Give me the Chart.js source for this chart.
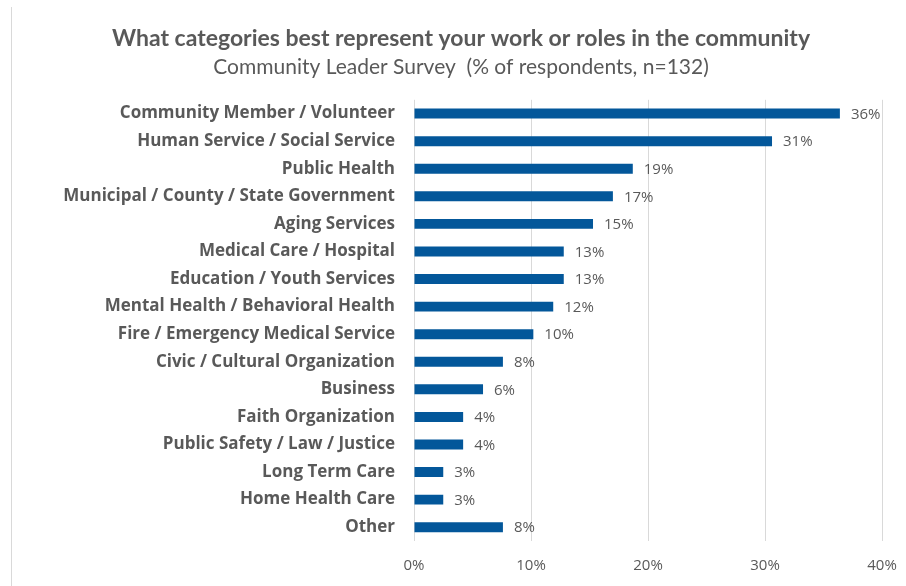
<!DOCTYPE html>
<html>
<head>
<meta charset="utf-8">
<script src="https://cdn.jsdelivr.net/npm/chart.js@4.4.1/dist/chart.umd.min.js"></script>
<style>
  html, body { margin: 0; padding: 0; background: #fff; }
  #wrap { position: relative; width: 906px; height: 586px; }
  #edge { position: absolute; left: 11px; top: 7px; bottom: 0; border-left: 1px solid #d9d9d9; }
</style>
</head>
<body>
<div id="wrap">
  <div id="edge"></div>
  <canvas id="roles" width="906" height="586"></canvas>
</div>
<script>
var categories = [
    'Community Member / Volunteer',
    'Human Service / Social Service',
    'Public Health',
    'Municipal / County / State Government',
    'Aging Services',
    'Medical Care / Hospital',
    'Education / Youth Services',
    'Mental Health / Behavioral Health',
    'Fire / Emergency Medical Service',
    'Civic / Cultural Organization',
    'Business',
    'Faith Organization',
    'Public Safety / Law / Justice',
    'Long Term Care',
    'Home Health Care',
    'Other'
];
var percents = [36.4, 30.6, 18.7, 17.0, 15.3, 12.8, 12.8, 11.9, 10.2, 7.6, 5.9, 4.2, 4.2, 2.5, 2.5, 7.6];
var tickValues = [0, 10, 20, 30, 40];

var grey = '#595959';
var sans = '"Open Sans"';

// value labels at the end of each bar
var barLabels = {
    id: 'barLabels',
    afterDatasetsDraw: function(chart){
        var ctx = chart.ctx;
        var meta = chart.getDatasetMeta(0);
        ctx.save();
        ctx.font = '15px ' + sans;
        ctx.fillStyle = grey;
        ctx.textAlign = 'left';
        ctx.textBaseline = 'middle';
        meta.data.forEach(function(bar, i){
            ctx.fillText(Math.round(percents[i]) + '%', bar.x + 11, bar.y + 1);
        });
        ctx.restore();
    }
};

var ctx = document.getElementById('roles').getContext('2d');
var chart = new Chart(ctx, {
    type: 'bar',
    data: {
        labels: categories,
        datasets: [
            {
                data: percents,
                backgroundColor: '#03579a',
                barPercentage: 0.6,
                categoryPercentage: 0.6
            }
        ]
    },
    plugins: [barLabels],
    options: {
        indexAxis: 'y',
        responsive: false,
        animation: false,
        layout: { padding: { left: 16, right: 0, top: 0, bottom: 0 } },
        plugins: {
            legend: { display: false },
            tooltip: { enabled: false },
            title: {
                display: true,
                text: 'What categories best represent your work or roles in the community',
                color: grey,
                font: { family: 'Lato', size: 23, weight: 'bold', lineHeight: 1.2 },
                padding: { top: 25, bottom: 2 }
            },
            subtitle: {
                display: true,
                text: 'Community Leader Survey  (% of respondents, n=132)',
                color: grey,
                font: { family: 'Lato', size: 21, lineHeight: 1.2 },
                padding: { top: 0, bottom: 20 }
            }
        },
        scales: {
            x: {
                min: 0,
                max: 40,
                afterFit: function(scale){
                    scale.height = 45;
                    scale.paddingRight = 24;
                },
                afterBuildTicks: function(scale){
                    scale.ticks = tickValues.map(function(v){ return { value: v }; });
                },
                grid: { color: '#d9d9d9', drawTicks: false },
                border: { display: false },
                ticks: {
                    color: grey,
                    padding: 16,
                    font: { family: sans, size: 15 },
                    callback: function(v){ return v + '%'; }
                }
            },
            y: {
                afterFit: function(scale){ scale.width = 398; },
                grid: { display: false, drawTicks: false },
                border: { display: false },
                ticks: {
                    color: grey,
                    padding: 19,
                    autoSkip: false,
                    font: { family: sans, size: 17, weight: 'bold' }
                }
            }
        }
    }
});
</script>
</body>
</html>
